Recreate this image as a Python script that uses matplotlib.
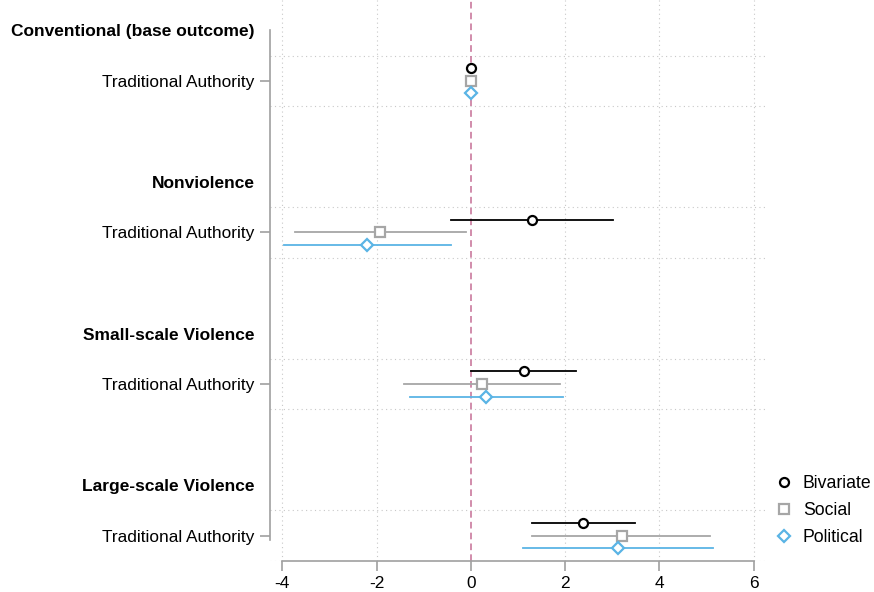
import matplotlib.pyplot as plt
from matplotlib.lines import Line2D

plt.rcParams['font.family'] = ['Liberation Sans', 'DejaVu Sans']

outcomes = ["Conventional (base outcome)", "Nonviolence", "Small-scale Violence", "Large-scale Violence"]
predictor = "Traditional Authority"
models = ["Bivariate", "Social", "Political"]

# point estimates per outcome (rows) and model (columns)
est = [[0.0, 0.0, 0.0],
       [1.30, -1.92, -2.21],
       [1.12, 0.24, 0.33],
       [2.38, 3.20, 3.12]]
lo = [[None, None, None],
      [-0.42, -3.73, -3.97],
      [0.01, -1.41, -1.28],
      [1.30, 1.30, 1.11]]
hi = [[None, None, None],
      [3.01, -0.11, -0.42],
      [2.23, 1.89, 1.95],
      [3.49, 5.08, 5.13]]

colors = ["black", "#a6a6a6", "#5ab4e5"]
markers = ["o", "s", "D"]
msizes = [6.5, 7, 6]
offsets = [-0.25, 0.0, 0.25]
grid_c = "#c8c8c8"
spine_c = "#a0a0a0"

fig = plt.figure(figsize=(8.74, 5.92), dpi=100)
ax = fig.add_axes([270 / 874, 31 / 592, 495 / 874, 561 / 592])

# each outcome block: header at 3k, coefficient row at 3k+1
rows = [3 * k + 1 for k in range(len(outcomes))]
heads = [3 * k for k in range(len(outcomes))]

for r in rows:
    for yy in (r - 0.5, r + 0.5):
        ax.axhline(yy, color=grid_c, lw=0.8, ls=(0, (1, 3)), zorder=0)
for xx in [-4, -2, 2, 4, 6]:
    ax.axvline(xx, color=grid_c, lw=0.8, ls=(0, (1, 3)), zorder=0)
ax.axvline(0, color="#c9799d", lw=1.2, ls=(0, (4, 2.5)), zorder=1)

for k, r in enumerate(rows):
    for m in range(len(models)):
        y = r + offsets[m]
        if lo[k][m] is not None:
            ax.plot([lo[k][m], hi[k][m]], [y, y], color=colors[m], lw=1.3, zorder=2)
        ax.plot(est[k][m], y, marker=markers[m], ms=msizes[m], mfc="white",
                mec=colors[m], mew=1.6, ls="none", zorder=3)

ax.set_xlim(-4.26, 6.24)
ax.set_ylim(10.5, -0.6)

ticks = sorted(rows + heads)
labels = []
for t in ticks:
    labels.append(outcomes[t // 3] if t % 3 == 0 else predictor)
ax.set_yticks(ticks)
ax.set_yticklabels(labels, fontsize=12.4)
for t, tick, lab in zip(ticks, ax.yaxis.get_major_ticks(), ax.get_yticklabels()):
    if t % 3 == 0:
        tick.tick1line.set_visible(False)
        lab.set_fontweight("bold")
        lab.set_fontsize(12.5)

ax.set_xticks([-4, -2, 0, 2, 4, 6])
ax.set_xticklabels(["-4", "-2", "0", "2", "4", "6"], fontsize=12.4)
ax.tick_params(axis="both", color=spine_c, width=1.2, length=7, pad=4)

for s in ["top", "right"]:
    ax.spines[s].set_visible(False)
ax.spines["left"].set_color(spine_c)
ax.spines["bottom"].set_color(spine_c)
ax.spines["left"].set_linewidth(1.2)
ax.spines["bottom"].set_linewidth(1.2)
ax.spines["left"].set_bounds(0, 10.08)
ax.spines["bottom"].set_bounds(-4, 6)

handles = [Line2D([], [], marker=markers[m], ms=msizes[m], mfc="white", mec=colors[m],
                  mew=1.6, ls="none") for m in range(len(models))]
ax.legend(handles, models, loc="lower left", bbox_to_anchor=(1.0, 0.009), frameon=False,
          fontsize=12.7, handlelength=1.0, handletextpad=0.6, labelspacing=0.58,
          borderaxespad=0.15)

fig.savefig("out.png", dpi=100)
